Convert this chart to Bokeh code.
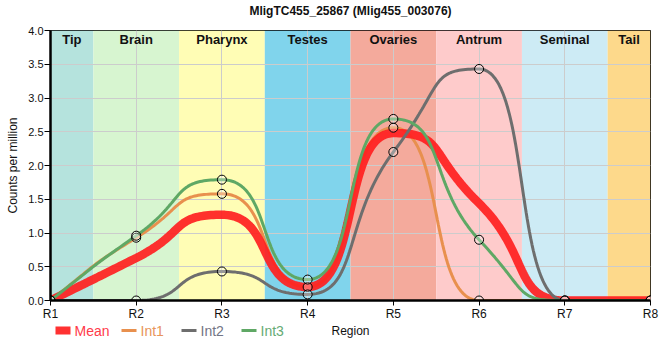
import numpy as np
from bokeh.plotting import figure
from bokeh.layouts import column
from bokeh.models import Range1d, FixedTicker, NumeralTickFormatter
from bokeh.embed import file_html
from bokeh.resources import INLINE

# ---- data ----
title_text = "MligTC455_25867 (Mlig455_003076)"
regions = [1, 2, 3, 4, 5, 6, 7, 8]
region_labels = ["R1", "R2", "R3", "R4", "R5", "R6", "R7", "R8"]
band_names = ["Tip", "Brain", "Pharynx", "Testes", "Ovaries", "Antrum", "Seminal", "Tail"]
band_colors = ["#b5e3dd", "#d7f5d0", "#fffdb5", "#80d4ec", "#f4aa9c", "#fecbcb", "#cdebf5", "#fdd98b"]
y_ticks = [0, 0.5, 1, 1.5, 2, 2.5, 3, 3.5, 4]
int1 = [0.0, 0.93, 1.58, 0.20, 2.56, 0.0, 0.0, 0.0]
int2 = [0.0, 0.0, 0.43, 0.09, 2.20, 3.43, 0.0, 0.0]
int3 = [0.0, 0.96, 1.79, 0.31, 2.69, 0.90, 0.0, 0.0]
mean = [0.0, 0.63, 1.27, 0.20, 2.48, 1.44, 0.0, 0.0]
series_names = ["Mean", "Int1", "Int2", "Int3"]
series_colors = ["#ff1f1f", "#e8904e", "#6e6e6e", "#5fa865"]
label_colors = ["#ff3b4a", "#e8955a", "#737585", "#66ab74"]

FONT = "Liberation Sans"
K = 0.6  # bezier handle length (fraction of segment)


def smooth(xs, ys, n=50):
    xs = np.asarray(xs, float)
    ys = np.asarray(ys, float)
    m = len(xs)
    t = np.zeros(m)
    for i in range(1, m - 1):
        h0 = xs[i] - xs[i - 1]
        h1 = xs[i + 1] - xs[i]
        s0 = (ys[i] - ys[i - 1]) / h0
        s1 = (ys[i + 1] - ys[i]) / h1
        p = (s0 * h1 + s1 * h0) / (h0 + h1)
        sg0 = -1 if s0 < 0 else 1
        sg1 = -1 if s1 < 0 else 1
        t[i] = (sg0 + sg1) * min(abs(s0), abs(s1), 0.5 * abs(p))
    t[0] = (3 * (ys[1] - ys[0]) / (xs[1] - xs[0]) - t[1]) / 2
    t[-1] = (3 * (ys[-1] - ys[-2]) / (xs[-1] - xs[-2]) - t[-2]) / 2
    ox, oy = [], []
    for i in range(m - 1):
        h = xs[i + 1] - xs[i]
        u = np.linspace(0, 1, n, endpoint=(i == m - 2))
        b0, b1, b2, b3 = (1 - u) ** 3, 3 * u * (1 - u) ** 2, 3 * u ** 2 * (1 - u), u ** 3
        px = [xs[i], xs[i] + K * h, xs[i + 1] - K * h, xs[i + 1]]
        py = [ys[i], ys[i] + K * h * t[i], ys[i + 1] - K * h * t[i + 1], ys[i + 1]]
        ox.extend(b0 * px[0] + b1 * px[1] + b2 * px[2] + b3 * px[3])
        oy.extend(b0 * py[0] + b1 * py[1] + b2 * py[2] + b3 * py[3])
    return ox, oy


W = 660
BL, BR = 50, 10


def strip(h):
    f = figure(width=W, height=h, output_backend="svg", toolbar_location=None,
               x_range=Range1d(BL, W - BR), y_range=Range1d(h, 0),
               min_border_left=BL, min_border_right=BR, min_border_top=0, min_border_bottom=0,
               x_axis_type=None, y_axis_type=None)
    f.grid.visible = False
    f.outline_line_color = None
    return f


# title strip
H0 = 22
top = strip(H0)
top.text(x=[(BL + W - BR) / 2], y=[10], text=[title_text], text_align="center", text_baseline="middle",
         text_font={"value": FONT}, text_font_size="12px", text_font_style="bold", text_color="#111111")

p = figure(width=W, height=301, output_backend="svg", toolbar_location=None,
           x_range=Range1d(1, 8), y_range=Range1d(0, 4),
           min_border_left=BL, min_border_right=BR, min_border_top=8, min_border_bottom=20)

# region bands
lefts = [max(r - 0.5, regions[0]) for r in regions]
rights = [min(r + 0.5, regions[-1]) for r in regions]
p.quad(left=lefts, right=rights, bottom=y_ticks[0], top=y_ticks[-1], fill_color=band_colors,
       line_color=None, level="image")
centers = [(a + b) / 2 for a, b in zip(lefts, rights)]
p.text(x=centers, y=[y_ticks[-1]] * len(centers), text=band_names, text_align="center",
       text_baseline="middle", y_offset=9, text_font={"value": FONT},
       text_font_size="13px", text_font_style="bold", text_color="#111111")

data = {"Mean": mean, "Int1": int1, "Int2": int2, "Int3": int3}
col = dict(zip(series_names, series_colors))
draw_order = ["Int1", "Mean", "Int2", "Int3"]
for name in draw_order:
    cx, cy = smooth(regions, data[name])
    if name == "Mean":
        p.line(cx, cy, line_color=col[name], line_width=8.5, line_alpha=0.92)
    else:
        p.line(cx, cy, line_color=col[name], line_width=3)
for name in ["Int1", "Int2", "Int3"]:
    p.scatter(regions, data[name], size=9, marker="circle", fill_color="white", fill_alpha=0.3,
              line_color="black", line_width=1)

# axes
p.xaxis.ticker = FixedTicker(ticks=regions)
p.xaxis.major_label_overrides = {r: l for r, l in zip(regions, region_labels)}
p.yaxis.ticker = FixedTicker(ticks=y_ticks)
p.yaxis.formatter = NumeralTickFormatter(format="0.0")
for ax in (p.xaxis[0], p.yaxis[0]):
    ax.axis_line_width = 2.5
    ax.axis_line_color = "black"
    ax.major_tick_line_color = "black"
    ax.major_tick_in = 0
    ax.minor_tick_line_color = None
    ax.major_label_text_font = FONT
    ax.major_label_text_color = "#111111"
    ax.axis_label_text_font = FONT
    ax.axis_label_text_font_size = "12px"
    ax.axis_label_text_font_style = "normal"
    ax.axis_label_text_color = "#111111"
p.xaxis.major_tick_out = 5
p.yaxis.major_tick_out = 6
p.xaxis.major_label_text_font_size = "12px"
p.xaxis.major_label_standoff = 1
p.yaxis.major_label_text_font_size = "11px"
p.yaxis.major_label_standoff = 1
p.yaxis.axis_label = "Counts per million"
p.yaxis.axis_label_standoff = 5
p.grid.grid_line_color = "#cccccc"
p.grid.grid_line_width = 1
p.outline_line_color = "black"
p.outline_line_alpha = 1

# legend row (with the x axis title) drawn as a strip under the chart
H2 = 37
q = strip(H2)
row_y = 7
sw_x = [55, 121, 181, 241]
for i, name in enumerate(series_names):
    x0 = sw_x[i]
    if name == "Mean":
        q.quad(left=[x0], right=[x0 + 15], top=[row_y - 4], bottom=[row_y + 4], fill_color=col[name],
               line_color=None, fill_alpha=0.92)
    else:
        q.segment(x0=[x0], y0=[row_y], x1=[x0 + 15], y1=[row_y], line_color=col[name], line_width=3)
    q.text(x=[x0 + 19], y=[row_y], text=[name], text_baseline="middle", text_align="left",
           text_font={"value": FONT}, text_font_size="14px", text_color=label_colors[i])
q.text(x=[(BL + W - BR) / 2], y=[row_y], text=["Region"], text_baseline="middle", text_align="center",
       text_font={"value": FONT}, text_font_size="12px", text_color="#111111")

layout = column(top, p, q, spacing=0)
open("out.html", "w").write(file_html(layout, INLINE))
